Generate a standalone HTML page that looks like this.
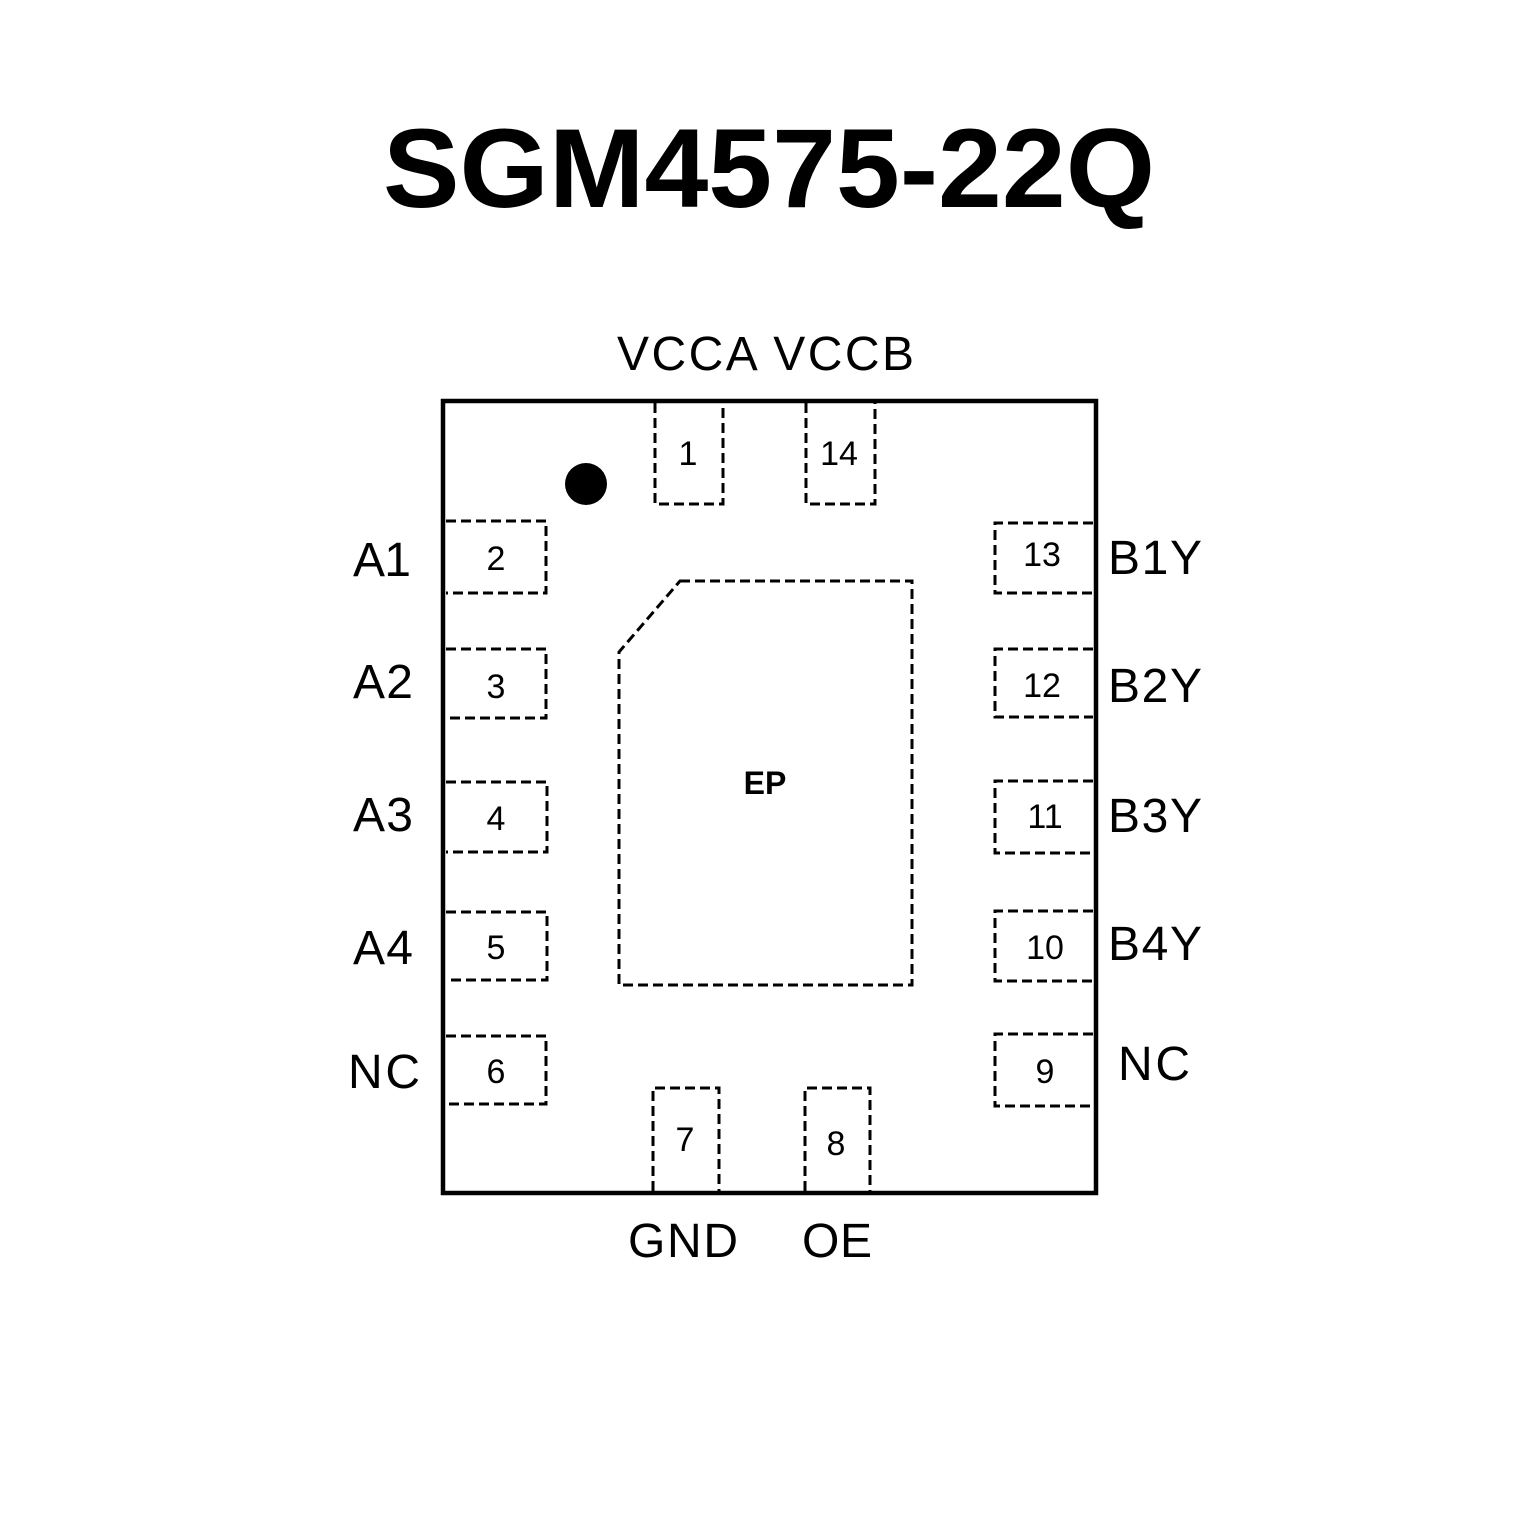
<!DOCTYPE html>
<html><head><meta charset="utf-8"><style>
html,body{margin:0;padding:0;background:#fff;}
svg{display:block;}
</style></head><body>
<svg width="1535" height="1535" viewBox="0 0 1535 1535" xmlns="http://www.w3.org/2000/svg" font-family="Liberation Sans, sans-serif">
<rect width="1535" height="1535" fill="#fff"/>
<text x="383" y="207" font-size="112" font-weight="bold" textLength="772" lengthAdjust="spacingAndGlyphs">SGM4575-22Q</text>
<rect x="443" y="401" width="653" height="792" fill="none" stroke="#000" stroke-width="4.5"/>
<circle cx="586" cy="484" r="21" fill="#000"/>
<g fill="none" stroke="#000" stroke-width="3" stroke-dasharray="10,5">
<path d="M655,403 V504 H723 V403"/>
<path d="M806,403 V504 H875 V403"/>
<path d="M446,521 H546 V593 H446"/>
<path d="M446,649 H546 V718 H446"/>
<path d="M446,782 H547 V852 H446"/>
<path d="M446,912 H547 V980 H446"/>
<path d="M446,1036 H546 V1104 H446"/>
<path d="M1093,523 H995 V593 H1093"/>
<path d="M1093,649 H995 V717 H1093"/>
<path d="M1093,781 H995 V853 H1093"/>
<path d="M1093,911 H995 V981 H1093"/>
<path d="M1093,1034 H995 V1106 H1093"/>
<path d="M653,1191 V1088 H719 V1191"/>
<path d="M805,1191 V1088 H870 V1191"/>
<path d="M680,581 H912 V985 H619 V652 Z"/>
</g>
<g font-size="34" text-anchor="middle" fill="#000">
<text x="688" y="465">1</text>
<text x="839" y="465">14</text>
<text x="496" y="570">2</text>
<text x="496" y="698">3</text>
<text x="496" y="830">4</text>
<text x="496" y="959">5</text>
<text x="496" y="1083">6</text>
<text x="1042" y="566">13</text>
<text x="1042" y="697">12</text>
<text x="1045" y="828">11</text>
<text x="1045" y="959">10</text>
<text x="1045" y="1083">9</text>
<text x="685" y="1151">7</text>
<text x="836" y="1155">8</text>
</g>
<text x="765" y="794" font-size="32" font-weight="bold" text-anchor="middle">EP</text>
<g font-size="48" fill="#000" lengthAdjust="spacingAndGlyphs">
<text x="617" y="370" textLength="297">VCCA VCCB</text>
<text x="353" y="576" textLength="58">A1</text>
<text x="353" y="698" textLength="60">A2</text>
<text x="353" y="831" textLength="60">A3</text>
<text x="353" y="964" textLength="60">A4</text>
<text x="348" y="1088" textLength="72">NC</text>
<text x="1108" y="574" textLength="94">B1Y</text>
<text x="1108" y="702" textLength="94">B2Y</text>
<text x="1108" y="832" textLength="94">B3Y</text>
<text x="1108" y="960" textLength="94">B4Y</text>
<text x="1118" y="1080" textLength="72">NC</text>
<text x="628" y="1257" textLength="110">GND</text>
<text x="802" y="1257" textLength="70">OE</text>
</g>
</svg>
</body></html>
